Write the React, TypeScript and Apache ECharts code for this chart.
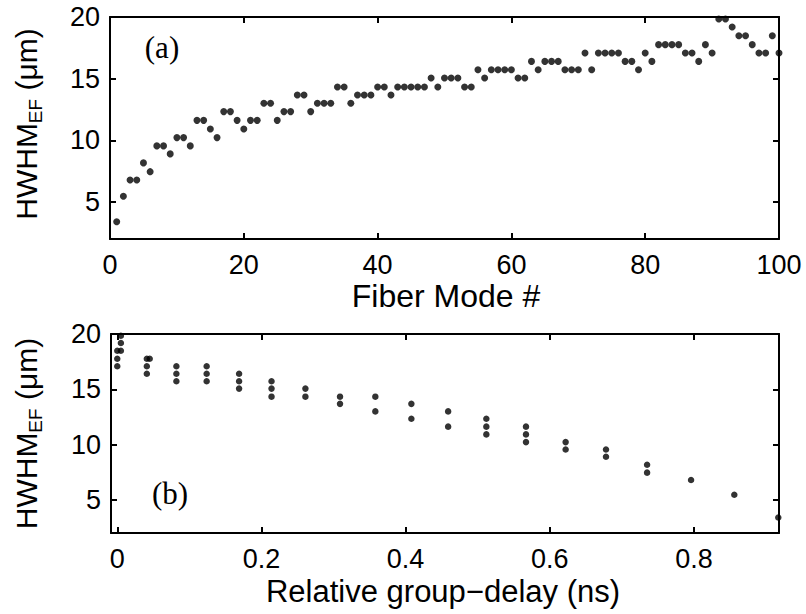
import React, { useEffect, useRef } from "react";
import * as echarts from "echarts";

// Panel (a): HWHM of the electric field for fiber modes 1..100
const modeNumbers: number[] = [
  1, 2, 3, 4, 5, 6, 7, 8, 9, 10, 11, 12, 13, 14, 15, 16, 17, 18, 19, 20,
  21, 22, 23, 24, 25, 26, 27, 28, 29, 30, 31, 32, 33, 34, 35, 36, 37, 38, 39, 40,
  41, 42, 43, 44, 45, 46, 47, 48, 49, 50, 51, 52, 53, 54, 55, 56, 57, 58, 59, 60,
  61, 62, 63, 64, 65, 66, 67, 68, 69, 70, 71, 72, 73, 74, 75, 76, 77, 78, 79, 80,
  81, 82, 83, 84, 85, 86, 87, 88, 89, 90, 91, 92, 93, 94, 95, 96, 97, 98, 99, 100,
];
const hwhmA: number[] = [
  3.4, 5.46, 6.79, 6.79, 8.17, 7.46, 9.55, 9.55, 8.9, 10.22,
  10.22, 9.55, 11.62, 11.62, 10.92, 10.22, 12.33, 12.33, 11.62, 10.92,
  11.62, 11.62, 13.0, 13.0, 11.62, 12.33, 12.33, 13.68, 13.68, 12.33,
  13.0, 13.0, 13.0, 14.33, 14.33, 13.0, 13.68, 13.68, 13.68, 14.33,
  14.33, 13.68, 14.33, 14.33, 14.33, 14.33, 14.33, 15.06, 14.33, 15.06,
  15.06, 15.06, 14.33, 14.33, 15.73, 15.06, 15.73, 15.73, 15.73, 15.73,
  15.06, 15.06, 16.4, 15.73, 16.4, 16.4, 16.4, 15.73, 15.73, 15.73,
  17.08, 15.73, 17.08, 17.08, 17.08, 17.08, 16.4, 16.4, 15.73, 17.08,
  16.4, 17.76, 17.76, 17.76, 17.76, 17.08, 17.08, 16.4, 17.76, 17.08,
  19.84, 19.84, 19.19, 18.48, 18.48, 17.76, 17.08, 17.08, 18.48, 17.08,
];

// Panel (b): HWHM vs relative group delay (ns)
const delayB: number[] = [
  0.0, 0.0, 0.0, 0.005, 0.005, 0.005,
  0.041, 0.041, 0.041, 0.045,
  0.082, 0.082, 0.082,
  0.124, 0.124, 0.124,
  0.169, 0.169, 0.169,
  0.214, 0.214, 0.214,
  0.261, 0.261,
  0.309, 0.309,
  0.358, 0.358,
  0.408, 0.408,
  0.459, 0.459,
  0.512, 0.512, 0.512,
  0.567, 0.567, 0.567,
  0.622, 0.622,
  0.678, 0.678,
  0.735, 0.735,
  0.796,
  0.856,
  0.917,
];
const hwhmB: number[] = [
  17.08, 17.76, 18.48, 18.48, 19.19, 19.84,
  17.76, 17.08, 16.4, 17.76,
  17.08, 16.4, 15.73,
  17.08, 16.4, 15.73,
  16.4, 15.73, 15.06,
  15.73, 15.06, 14.33,
  15.06, 14.33,
  14.33, 13.68,
  14.33, 13.0,
  13.68, 12.33,
  13.0, 11.62,
  12.33, 11.62, 10.92,
  11.62, 10.92, 10.22,
  10.22, 9.55,
  9.55, 8.9,
  8.17, 7.46,
  6.79,
  5.46,
  3.4,
];

const xTicksA: number[] = [0, 20, 40, 60, 80, 100];
const xTicksB: number[] = [0, 0.2, 0.4, 0.6, 0.8];
const yTicks: number[] = [5, 10, 15, 20];

const FONT = "'Liberation Sans', Arial, Helvetica, sans-serif";
const SERIF = "'Liberation Serif', 'Times New Roman', serif";

export default function App() {
  const ref = useRef<HTMLDivElement>(null);

  useEffect(() => {
    if (!ref.current) return;
    const chart = echarts.init(ref.current, undefined, { renderer: "svg" });

    const axisLine = { show: true, onZero: false, lineStyle: { color: "#000", width: 2 } };
    const tick = (vals: number[]) => ({
      show: true,
      inside: true,
      length: 6,
      customValues: vals,
      lineStyle: { color: "#000", width: 2 },
    });
    const label = (vals: number[], margin: number) => ({
      show: true,
      customValues: vals,
      color: "#000",
      fontSize: 27,
      lineHeight: 22,
      fontFamily: FONT,
      margin,
      formatter: (v: number) => String(v),
    });
    const hidden = { show: false };

    const grids = [
      { left: 110, top: 17, width: 669, height: 222, containLabel: false, outerBoundsMode: "none" },
      { left: 111, top: 334, width: 668, height: 199, containLabel: false, outerBoundsMode: "none" },
    ];

    const option: any = {
      animation: false,
      backgroundColor: "#fff",
      grid: grids,
      xAxis: [
        {
          gridIndex: 0, type: "value", min: 0, max: 100, position: "bottom",
          axisLine, axisTick: tick(xTicksA), axisLabel: label(xTicksA, 15), splitLine: hidden,
        },
        {
          gridIndex: 0, type: "value", min: 0, max: 100, position: "top",
          axisLine, axisTick: tick(xTicksA), axisLabel: hidden, splitLine: hidden,
        },
        {
          gridIndex: 1, type: "value", min: -0.0087, max: 0.918, position: "bottom",
          axisLine, axisTick: tick(xTicksB), axisLabel: label(xTicksB, 15), splitLine: hidden,
        },
        {
          gridIndex: 1, type: "value", min: -0.0087, max: 0.918, position: "top",
          axisLine, axisTick: tick(xTicksB), axisLabel: hidden, splitLine: hidden,
        },
      ],
      yAxis: [
        {
          gridIndex: 0, type: "value", min: 2, max: 20, position: "left",
          axisLine, axisTick: tick(yTicks), axisLabel: label(yTicks, 10), splitLine: hidden,
        },
        {
          gridIndex: 0, type: "value", min: 2, max: 20, position: "right",
          axisLine, axisTick: tick(yTicks), axisLabel: hidden, splitLine: hidden,
        },
        {
          gridIndex: 1, type: "value", min: 2, max: 20, position: "left",
          axisLine, axisTick: tick(yTicks), axisLabel: label(yTicks, 10), splitLine: hidden,
        },
        {
          gridIndex: 1, type: "value", min: 2, max: 20, position: "right",
          axisLine, axisTick: tick(yTicks), axisLabel: hidden, splitLine: hidden,
        },
      ],
      series: [
        {
          type: "scatter",
          xAxisIndex: 0,
          yAxisIndex: 0,
          symbol: "circle",
          symbolSize: 7,
          itemStyle: { color: "#000" },
          data: modeNumbers.map((m, i) => [m, hwhmA[i]]),
        },
        {
          type: "scatter",
          xAxisIndex: 2,
          yAxisIndex: 2,
          symbol: "circle",
          symbolSize: 6.5,
          itemStyle: { color: "#000" },
          data: delayB.map((d, i) => [d, hwhmB[i]]),
        },
      ],
      graphic: [
        {
          type: "text", x: 446, y: 296,
          style: { text: "Fiber Mode #", fontSize: 32, lineHeight: 26, fontFamily: FONT, fill: "#000", align: "center", verticalAlign: "middle" },
        },
        {
          type: "text", x: 443, y: 591,
          style: { text: "Relative group\u2212delay (ns)", fontSize: 31, lineHeight: 26, fontFamily: FONT, fill: "#000", align: "center", verticalAlign: "middle" },
        },
        {
          type: "text", x: 162, y: 47,
          style: { text: "(a)", fontSize: 31, fontFamily: SERIF, fill: "#000", align: "center", verticalAlign: "middle" },
        },
        {
          type: "text", x: 170, y: 493,
          style: { text: "(b)", fontSize: 31, fontFamily: SERIF, fill: "#000", align: "center", verticalAlign: "middle" },
        },
        ...[124, 433.5].map((cy) => ({
          type: "text",
          x: 26,
          y: cy,
          rotation: Math.PI / 2,
          style: {
            text: "{m|HWHM}{s|EF}{m| (\u03bcm)}",
            align: "center",
            verticalAlign: "middle",
            fill: "#000",
            rich: {
              m: { fontSize: 30, fontFamily: FONT, lineHeight: 38, fill: "#000" },
              s: { fontSize: 19, fontFamily: FONT, lineHeight: 14, verticalAlign: "bottom", fill: "#000" },
            },
          },
        })),
      ],
    };

    chart.setOption(option);
    return () => chart.dispose();
  }, []);

  return (
    <div
      ref={ref}
      style={{ position: "fixed", left: 0, top: 0, width: 806, height: 614, background: "#fff" }}
    />
  );
}
